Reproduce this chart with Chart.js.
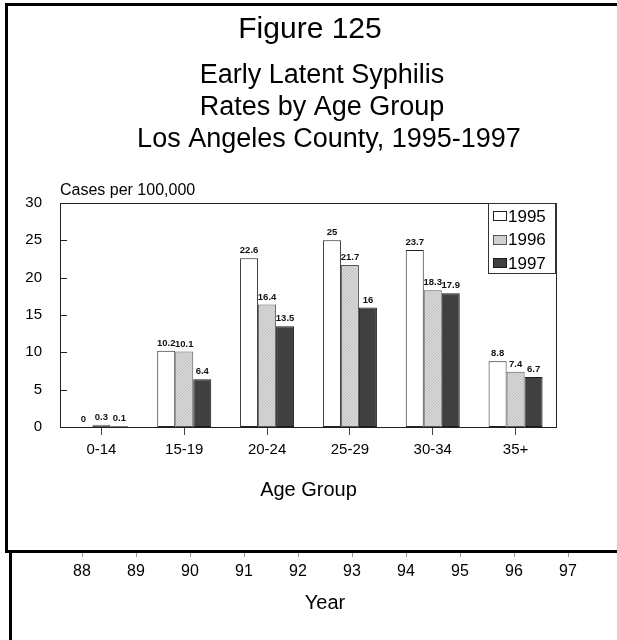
<!DOCTYPE html>
<html>
<head>
<meta charset="utf-8">
<script src="https://cdn.jsdelivr.net/npm/chart.js@4"></script>
<style>
  html, body { margin: 0; padding: 0; background: #fff; }
  #wrap { position: relative; width: 617px; height: 640px; overflow: hidden; }
  #main { position: absolute; left: 0; top: 0; }
  #years { position: absolute; left: 0; top: 543px; }
  .rule { position: absolute; background: #000; }
</style>
</head>
<body>
<div id="wrap">
  <canvas id="main" width="617" height="550"></canvas>
  <canvas id="years" width="617" height="97"></canvas>
  <div class="rule" style="left:5px;top:3px;width:612px;height:3px"></div>
  <div class="rule" style="left:5px;top:3px;width:3px;height:550px"></div>
  <div class="rule" style="left:5px;top:550px;width:612px;height:3px"></div>
  <div class="rule" style="left:9px;top:550px;width:3px;height:90px"></div>
</div>
<script>
"use strict";

// Werte
const ageGroups = ["0-14", "15-19", "20-24", "25-29", "30-34", "35+"];
const seriesYears = ["1995", "1996", "1997"];
const rates1995 = [0, 10.2, 22.6, 25, 23.7, 8.8];
const rates1996 = [0.3, 10.1, 16.4, 21.7, 18.3, 7.4];
const rates1997 = [0.1, 6.4, 13.5, 16, 17.9, 6.7];
const yTicks = [0, 5, 10, 15, 20, 25, 30];
const yearTicks = ["88", "89", "90", "91", "92", "93", "94", "95", "96", "97"];
const titleLines = ["Figure 125", "Early Latent Syphilis", "Rates by Age Group", "Los Angeles County, 1995-1997"];

const FONT = '"Liberation Sans", Arial, sans-serif';
Chart.defaults.font.family = FONT;
Chart.defaults.color = "#000";

// feine Schraffur fuer 1996
function hatch() {
  const c = document.createElement("canvas");
  c.width = 3; c.height = 3;
  const g = c.getContext("2d");
  g.fillStyle = "#d6d6d6";
  g.fillRect(0, 0, 3, 3);
  g.fillStyle = "#c3c3c3";
  for (let i = 0; i < 3; i++) g.fillRect(i, 2 - i, 1, 1);
  return g.createPattern(c, "repeat");
}

// Titelzeilen: Groesse, Mitte x, Grundlinie y
const titleLayout = [
  { size: 30, x: 310, y: 38 },
  { size: 27, x: 322, y: 83 },
  { size: 27, x: 322, y: 115 },
  { size: 27, x: 329, y: 147 },
];

const headingPlugin = {
  id: "heading",
  afterDraw(chart) {
    const { ctx } = chart;
    ctx.save();
    ctx.fillStyle = "#000";
    ctx.textAlign = "center";
    ctx.textBaseline = "alphabetic";
    titleLines.forEach((t, i) => {
      const l = titleLayout[i];
      ctx.font = `${l.size}px ${FONT}`;
      ctx.fillText(t, l.x, l.y);
    });
    ctx.textAlign = "left";
    ctx.font = `16px ${FONT}`;
    ctx.fillText("Cases per 100,000", chart.chartArea.left, 195);
    ctx.restore();
  },
};

const framePlugin = {
  id: "frame",
  afterDatasetsDraw(chart) {
    const { ctx, chartArea: a } = chart;
    const y = chart.scales.y;
    ctx.save();
    ctx.strokeStyle = "#222";
    ctx.lineWidth = 1;
    ctx.strokeRect(a.left + 0.5, a.top + 0.5, a.right - a.left - 1, a.bottom - a.top);
    // kurze Striche nach innen
    ctx.beginPath();
    for (const t of y.ticks) {
      const py = Math.round(y.getPixelForValue(t.value)) + 0.5;
      ctx.moveTo(a.left, py);
      ctx.lineTo(a.left + 7, py);
    }
    ctx.stroke();
    ctx.restore();
  },
};

const valueLabels = {
  id: "valueLabels",
  afterDatasetsDraw(chart) {
    const { ctx } = chart;
    ctx.save();
    ctx.font = `bold 9.5px ${FONT}`;
    ctx.fillStyle = "#111";
    ctx.textAlign = "center";
    ctx.textBaseline = "alphabetic";
    chart.data.datasets.forEach((ds, i) => {
      chart.getDatasetMeta(i).data.forEach((bar, j) => {
        ctx.fillText(String(ds.data[j]), bar.x, bar.y - 5);
      });
    });
    ctx.restore();
  },
};

const legendBox = {
  id: "legendBox",
  afterDraw(chart) {
    const { ctx, chartArea: a } = chart;
    const w = 69, h = 71;
    const x0 = a.right - w;
    ctx.save();
    ctx.fillStyle = "#fff";
    ctx.fillRect(x0, a.top, w, h);
    ctx.strokeStyle = "#333";
    ctx.lineWidth = 1;
    ctx.strokeRect(x0 + 0.5, a.top + 0.5, w - 1, h - 1);
    ctx.fillStyle = "#333";
    ctx.fillRect(a.right - 2, a.top, 2, h);
    ctx.font = `17px ${FONT}`;
    ctx.textBaseline = "middle";
    chart.data.datasets.forEach((ds, i) => {
      const cy = a.top + 13 + i * 23.5;
      ctx.fillStyle = ds.backgroundColor;
      ctx.fillRect(x0 + 5, Math.round(cy - 5), 14, 10);
      ctx.strokeStyle = ds.borderColor;
      ctx.strokeRect(x0 + 5.5, Math.round(cy - 5) + 0.5, 13, 9);
      ctx.fillStyle = "#000";
      ctx.fillText(ds.label, x0 + 20, cy + 1);
    });
    ctx.restore();
  },
};

const barStyle = { borderWidth: 1, borderSkipped: false, barPercentage: 1, categoryPercentage: 0.652 };

new Chart(document.getElementById("main"), {
  type: "bar",
  data: {
    labels: ageGroups,
    datasets: [
      { label: seriesYears[0], data: rates1995, backgroundColor: "#ffffff", borderColor: "#222", ...barStyle },
      { label: seriesYears[1], data: rates1996, backgroundColor: hatch(), borderColor: "#555", ...barStyle },
      { label: seriesYears[2], data: rates1997, backgroundColor: "#404040", borderColor: "#1a1a1a", ...barStyle },
    ],
  },
  options: {
    responsive: false,
    animation: false,
    layout: { padding: { top: 203, left: 10, right: 60, bottom: 0 } },
    plugins: { legend: { display: false }, tooltip: { enabled: false } },
    scales: {
      x: {
        grid: { display: true, drawOnChartArea: false, offset: false, tickLength: 8, color: "#444" },
        border: { display: false },
        ticks: { font: { size: 15 }, padding: 6, maxRotation: 0, autoSkip: false },
        title: { display: true, text: "Age Group", font: { size: 20 }, padding: { top: 0, bottom: 48 } },
        afterFit(s) { s.height = 123; },
      },
      y: {
        min: 0,
        max: 30,
        grid: { display: false },
        border: { display: false },
        ticks: { font: { size: 15 }, padding: 10 },
        afterBuildTicks(s) { s.ticks = yTicks.map((v) => ({ value: v })); },
        afterFit(s) { s.width = 50; },
      },
    },
  },
  plugins: [headingPlugin, framePlugin, valueLabels, legendBox],
});

// Reste der darunterliegenden Abbildung (Jahresachse)
new Chart(document.getElementById("years"), {
  type: "line",
  data: { labels: yearTicks, datasets: [] },
  options: {
    responsive: false,
    animation: false,
    layout: { padding: { left: 55, right: 22, top: 0, bottom: 0 } },
    plugins: { legend: { display: false }, tooltip: { enabled: false } },
    scales: {
      x: {
        offset: true,
        grid: { display: true, drawOnChartArea: false, offset: false, tickLength: 4, color: "#999" },
        border: { display: false },
        ticks: { font: { size: 16 }, padding: 5, maxRotation: 0, autoSkip: false },
        title: { display: true, text: "Year", font: { size: 20 }, padding: { top: 0, bottom: 25 } },
        afterFit(s) { s.height = 87; },
      },
      y: { display: false },
    },
  },
});
</script>
</body>
</html>
